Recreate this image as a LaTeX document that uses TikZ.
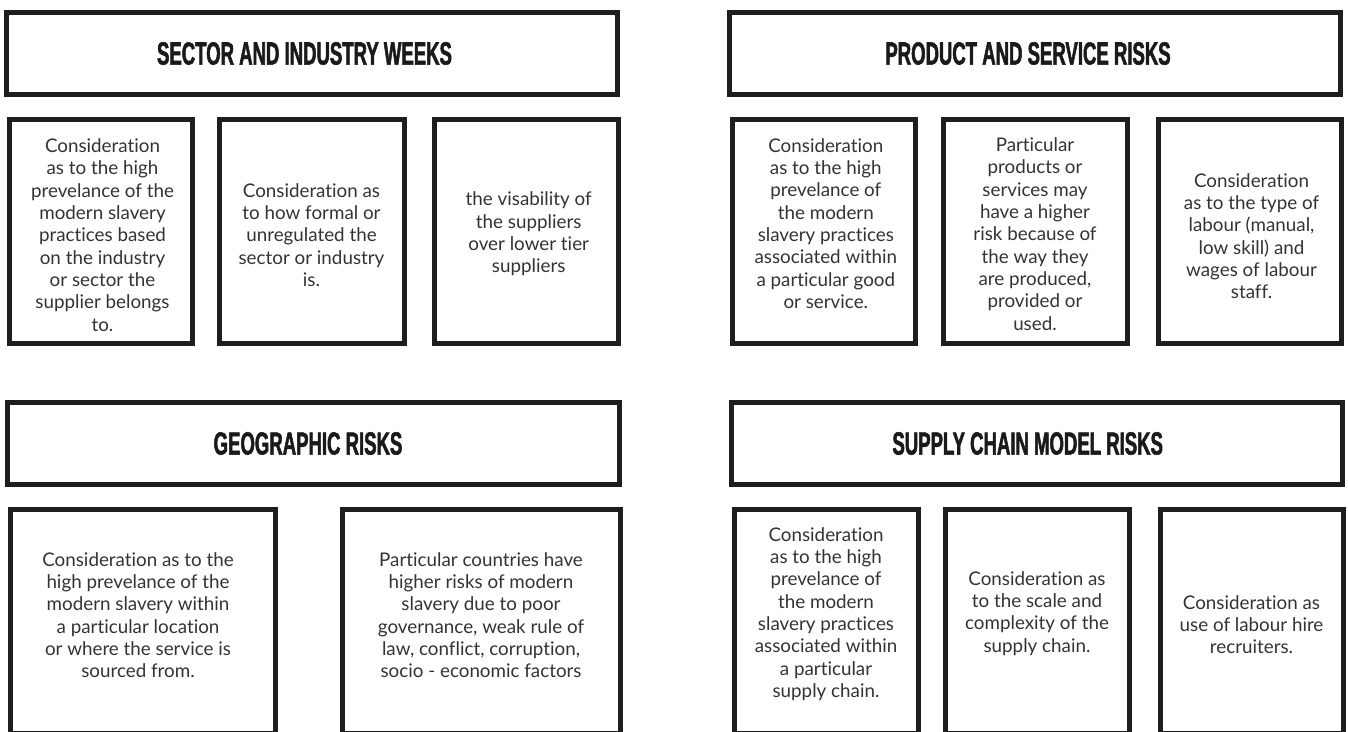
\documentclass[tikz,border=0pt]{standalone}
\usepackage{fontspec}
\setmainfont{Lato}[Ligatures=NoCommon]
\newfontfamily\headfont{Liberation Sans}[FakeStretch=0.58,BoldFeatures={FakeBold=1.6}]
\definecolor{boxc}{HTML}{1E1E1E}
\definecolor{headc}{HTML}{1A1A1A}
\definecolor{bodyc}{HTML}{333333}
\begin{document}
\begin{tikzpicture}[x=1pt,y=-1pt,
  box/.style={draw=boxc,line width=5pt,inner sep=0pt,rectangle,minimum height=224pt},
  hbox/.style={draw=boxc,line width=5pt,inner sep=0pt,rectangle,minimum width=611.5pt,minimum height=82.5pt},
  head/.style={font=\headfont\bfseries\fontsize{32}{32}\selectfont,text=headc,inner sep=0pt},
  body/.style={font=\fontsize{18.8}{22.3}\selectfont,text=bodyc,align=center,inner sep=0pt}]
\useasboundingbox (0,0) rectangle (1348,731);
\clip (0,0) rectangle (1348,731);
% header boxes
\node[hbox] (h1) at (311.75,53.25) {};
\node[hbox] (h2) at (1034.75,53.25) {};
\node[hbox] (h3) at (313.25,443.25) {};
\node[hbox,minimum width=611pt] (h4) at (1037,443.25) {};
\node[head] (t1) at (304.5,53.5) {SECTOR AND INDUSTRY WEEKS};
\node[head] (t2) at (1028,53.5) {PRODUCT AND SERVICE RISKS};
\node[head] (t3) at (308,443.5) {GEOGRAPHIC RISKS};
\node[head] (t4) at (1027.7,443.5) {SUPPLY CHAIN MODEL RISKS};
% row 1 boxes
\node[box,minimum width=183.5pt] (b1) at (100.75,231.5) {};
\node[box,minimum width=185pt] (b2) at (312,231.5) {};
\node[box,minimum width=184pt] (b3) at (526.5,231.5) {};
\node[box,minimum width=183.5pt] (b4) at (823.75,231.5) {};
\node[box,minimum width=184.5pt] (b5) at (1035.25,231.5) {};
\node[box,minimum width=183pt] (b6) at (1250,231.5) {};
% row 2 boxes
\node[box,minimum width=265pt] (b7) at (143,621.5) {};
\node[box,minimum width=277.5pt] (b8) at (481.25,621.5) {};
\node[box,minimum width=183.5pt] (b9) at (826.25,621.5) {};
\node[box,minimum width=184pt] (b10) at (1037,621.5) {};
\node[box,minimum width=183.5pt] (b11) at (1251.75,621.5) {};
% texts
\node[body] (x1) at (102.5,235) {Consideration\\as to the high\\prevelance of the\\modern slavery\\practices based\\on the industry\\or sector the\\supplier belongs\\to.};
\node[body] (x2) at (311.5,235) {Consideration as\\to how formal or\\unregulated the\\sector or industry\\is.};
\node[body] (x3) at (528.7,234) {the visability of\\the suppliers\\over lower tier\\suppliers};
\node[body] (x4) at (825.8,223.5) {Consideration\\as to the high\\prevelance of\\the modern\\slavery practices\\associated within\\a particular good\\or service.};
\node[body] (x5) at (1035,234) {Particular\\products or\\services may\\have a higher\\risk because of\\the way they\\are produced,\\provided or\\used.};
\node[body] (x6) at (1251.5,236) {Consideration\\as to the type of\\labour (manual,\\low skill) and\\wages of labour\\staff.};
\node[body] (x7) at (138,615) {Consideration as to the\\high prevelance of the\\modern slavery within\\a particular location\\or where the service is\\sourced from.};
\node[body] (x8) at (481,615) {Particular countries have\\higher risks of modern\\slavery due to poor\\governance, weak rule of\\law, conflict, corruption,\\socio - economic factors};
\node[body] (x9) at (826,614) {Consideration\\as to the high\\prevelance of\\the modern\\slavery practices\\associated within\\a particular\\supply chain.};
\node[body] (x10) at (1037,613.5) {Consideration as\\to the scale and\\complexity of the\\supply chain.};
\node[body] (x11) at (1251.5,624.7) {Consideration as\\use of labour hire\\recruiters.};
\end{tikzpicture}
\end{document}
